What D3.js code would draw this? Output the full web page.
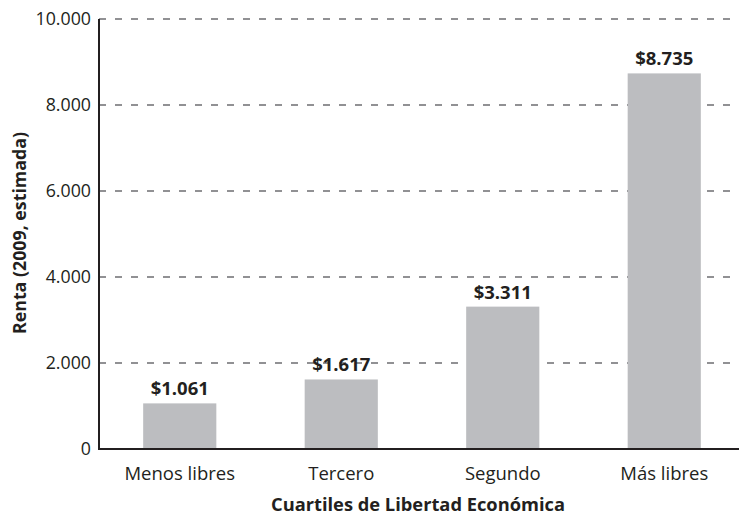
<!DOCTYPE html>
<html lang="es">
  <head>
    <meta charset="utf-8">
    <title>Renta por cuartiles</title>
    <script src="https://d3js.org/d3.v7.min.js"></script>
    <style>
      body { margin: 0; background: #fff; }
      text { font-family: "Open Sans", sans-serif; fill: #231f20; }
    </style>
  </head>
  <body>
    <script>
      var categories = ["Menos libres", "Tercero", "Segundo", "Más libres"];
      var values = [1061, 1617, 3311, 8735];
      var valueLabels = ["$1.061", "$1.617", "$3.311", "$8.735"];
      var yTicks = [0, 2000, 4000, 6000, 8000, 10000];
      var yTickLabels = ["0", "2.000", "4.000", "6.000", "8.000", "10.000"];

      var W = 739, H = 515;
      // plot edges (note: "top" is reserved on window, so use other names)
      var plotLeft = 99, plotRight = 739, plotTop = 19, plotBottom = 449;

      var svg = d3.select("body").append("svg")
        .attr("width", W)
        .attr("height", H);

      var x = d3.scaleBand()
        .domain(categories)
        .range([plotLeft, 745])
        .paddingInner(0.547)
        .paddingOuter(0.2735);

      var y = d3.scaleLinear()
        .domain([0, 10000])
        .range([plotBottom, plotTop]);

      // dashed gridlines
      svg.selectAll("line.grid")
        .data(yTicks.filter(function(d){ return d > 0; }))
        .enter()
        .append("line")
          .attr("class", "grid")
          .attr("x1", plotLeft)
          .attr("x2", plotRight)
          .attr("y1", function(d){ return y(d); })
          .attr("y2", function(d){ return y(d); })
          .attr("stroke", "#6d6e71")
          .attr("stroke-width", 1.3)
          .attr("stroke-dasharray", "7,9");

      // bars
      svg.selectAll("rect")
        .data(values)
        .enter()
        .append("rect")
          .attr("x", function(d, i){ return x(categories[i]); })
          .attr("y", function(d){ return y(d); })
          .attr("width", x.bandwidth())
          .attr("height", function(d){ return plotBottom - y(d); })
          .attr("fill", "#bcbdc0");

      // value labels
      svg.selectAll("text.val")
        .data(values)
        .enter()
        .append("text")
          .attr("class", "val")
          .attr("x", function(d, i){ return x(categories[i]) + x.bandwidth() / 2; })
          .attr("y", function(d){ return y(d) - 8; })
          .attr("text-anchor", "middle")
          .attr("font-size", 18.5)
          .attr("font-weight", "bold")
          .text(function(d, i){ return valueLabels[i]; });

      // axes lines
      svg.append("line")
        .attr("x1", plotLeft).attr("x2", plotLeft)
        .attr("y1", plotTop).attr("y2", plotBottom)
        .attr("stroke", "#231f20").attr("stroke-width", 2);
      svg.append("line")
        .attr("x1", plotLeft - 1).attr("x2", plotRight)
        .attr("y1", plotBottom).attr("y2", plotBottom)
        .attr("stroke", "#231f20").attr("stroke-width", 2);

      // y tick labels
      svg.selectAll("text.ytick")
        .data(yTicks)
        .enter()
        .append("text")
          .attr("class", "ytick")
          .attr("x", 91)
          .attr("y", function(d){ return y(d); })
          .attr("dy", "0.36em")
          .attr("text-anchor", "end")
          .attr("font-size", 17.8)
          .text(function(d, i){ return yTickLabels[i]; });

      // category labels
      svg.selectAll("text.cat")
        .data(categories)
        .enter()
        .append("text")
          .attr("class", "cat")
          .attr("x", function(d){ return x(d) + x.bandwidth() / 2; })
          .attr("y", 480)
          .attr("text-anchor", "middle")
          .attr("font-size", 18.5)
          .text(function(d){ return d; });

      // axis titles
      svg.append("text")
        .attr("x", 418)
        .attr("y", 511)
        .attr("text-anchor", "middle")
        .attr("font-size", 18.3)
        .attr("font-weight", "bold")
        .text("Cuartiles de Libertad Económica");

      svg.append("text")
        .attr("transform", "translate(26,233) rotate(-90)")
        .attr("text-anchor", "middle")
        .attr("font-size", 17.8)
        .attr("font-weight", "bold")
        .text("Renta (2009, estimada)");
    </script>
  </body>
</html>
